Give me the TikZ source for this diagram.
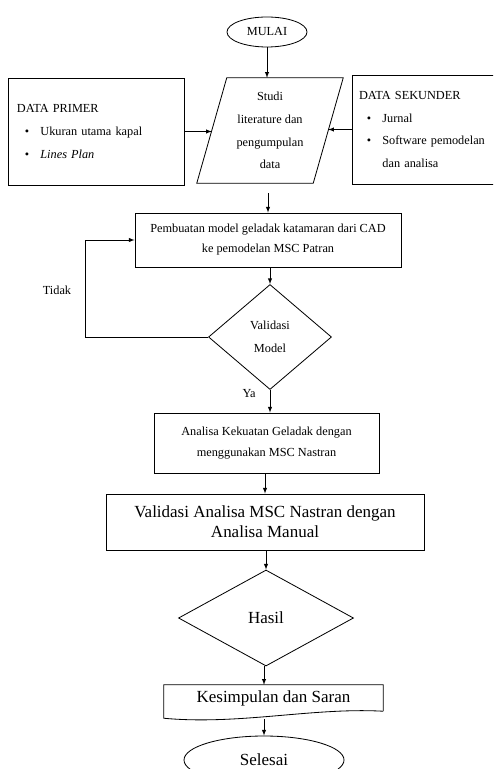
\documentclass[tikz,border=0pt]{standalone}
\usepackage{fontspec}
\setmainfont{Liberation Serif}
\usetikzlibrary{shapes.geometric,calc}

\newcommand{\bul}{\hspace*{6.8pt}\textbullet\hspace{9.5pt}}

\tikzset{
	line/.style={line width=0.7pt},
	arr/.style={line, -latex},
	box/.style={draw, line, rectangle, inner sep=2pt, align=center, font={\fontsize{10.5}{18}\selectfont}},
	bigbox/.style={box, font={\fontsize{14.5}{17}\selectfont}},
	databox/.style={draw, line, rectangle, align=left, font={\fontsize{10.5}{20}\selectfont}},
	decide/.style={draw, line, diamond, inner sep=0pt, align=center},
	term/.style={draw, line, ellipse, inner sep=0pt}
}

\begin{document}
\begin{tikzpicture}[x=0.03cm, y=-0.03cm]
		
		\path[use as bounding box, clip] (0,0) rectangle (493,769);
		
		\node (mulai) at (267,32) [term, minimum width=2.4cm, minimum height=0.9cm, font={\fontsize{10.5}{12}\selectfont}] {MULAI};
		\node (studi) at (270,130.5) [rectangle, minimum width=3.48cm, minimum height=3.15cm, inner sep=1pt, align=center, font={\fontsize{10.5}{19.5}\selectfont}] {Studi\\literature dan\\pengumpulan\\data};
		\node (primer) at (96,131.5) [databox, minimum width=5.28cm, minimum height=3.21cm, inner sep=0.27cm, text width=4.74cm] {DATA PRIMER\\\bul Ukuran utama kapal\\\bul \textit{Lines Plan}};
		\node (sekunder) at (437,129.5) [databox, minimum width=5.1cm, minimum height=3.27cm, inner sep=0.21cm, text width=4.68cm, font={\fontsize{10.5}{19.5}\selectfont}] {DATA SEKUNDER\\\bul Jurnal\\\bul Software pemodelan\\\hspace*{20pt}dan analisa};
		\node (pembuatan) at (268,240) [box, minimum width=7.98cm, minimum height=1.62cm, font={\fontsize{10.5}{17}\selectfont}] {Pembuatan model geladak katamaran dari CAD\\ke pemodelan MSC Patran};
		\node (validasi) at (270,337) [decide, minimum width=3.69cm, minimum height=3.15cm, font={\fontsize{10.5}{19.5}\selectfont}] {Validasi\\Model};
		\node (tidak) at (57,290) [font={\fontsize{10.5}{12}\selectfont}] {Tidak};
		\node (analisa) at (266.5,443) [box, minimum width=6.75cm, minimum height=1.8cm, font={\fontsize{10.5}{18.5}\selectfont}] {Analisa Kekuatan Geladak dengan\\menggunakan MSC Nastran};
		\node (valman) at (265,522) [bigbox, minimum width=9.54cm, minimum height=1.68cm] {Validasi Analisa MSC Nastran dengan\\Analisa Manual};
		\node (hasil) at (266,618) [decide, minimum width=5.25cm, minimum height=2.88cm, font={\fontsize{14.5}{17}\selectfont}] {Hasil};
		\node (kesimpulan) at (273.5,698) [rectangle, minimum width=6.57cm, minimum height=0.78cm, inner sep=0pt, font={\fontsize{14.5}{17}\selectfont}] {Kesimpulan dan Saran};
		\node (selesai) at (264,760) [term, minimum width=4.8cm, minimum height=1.44cm, font={\fontsize{14.5}{17}\selectfont}] {Selesai};
		
		% jajaran genjang studi literatur
		\draw[line] ($(studi.north west)+(15,0)$) -- ($(studi.north east)+(15,0)$) -- ($(studi.south east)+(-15,0)$) -- ($(studi.south west)+(-15,0)$) -- cycle;
		
		% dokumen dengan sisi bawah bergelombang
		\draw[line] (kesimpulan.south east) -- (kesimpulan.north east) -- (kesimpulan.north west) -- ($(kesimpulan.south west)+(0,7)$) .. controls ($(kesimpulan.south west)+(75,14)$) and ($(kesimpulan.south east)+(-70,-4)$) .. (kesimpulan.south east);
		
		\draw[arr] (mulai.south) -- (mulai.south |- studi.north);
		\draw[arr] (primer.east) -- (primer.east -| studi.west);
		\draw[arr] (sekunder.west) -- (sekunder.west -| studi.east);
		\draw[arr, shorten <=0.3cm] (pembuatan.north |- studi.south) -- (pembuatan.north);
		\draw[arr] (pembuatan.south -| validasi.north) -- (validasi.north);
		\draw[arr] (validasi.west) -- ++(-123,0) |- (pembuatan.west);
		\draw[arr] (validasi.south) -- (validasi.south |- analisa.north) node[pos=0.15, left=0.3cm, font={\fontsize{10.5}{12}\selectfont}] {Ya};
		\draw[arr] (analisa.south -| valman.north) -- (valman.north);
		\draw[arr] (valman.south -| hasil.north) -- (hasil.north);
		\draw[arr] (selesai.north |- hasil.south) -- (selesai.north |- kesimpulan.north);
		\draw[arr] ($(selesai.north |- kesimpulan.south)+(0,8)$) -- (selesai.north);
		
	\end{tikzpicture}
\end{document}
